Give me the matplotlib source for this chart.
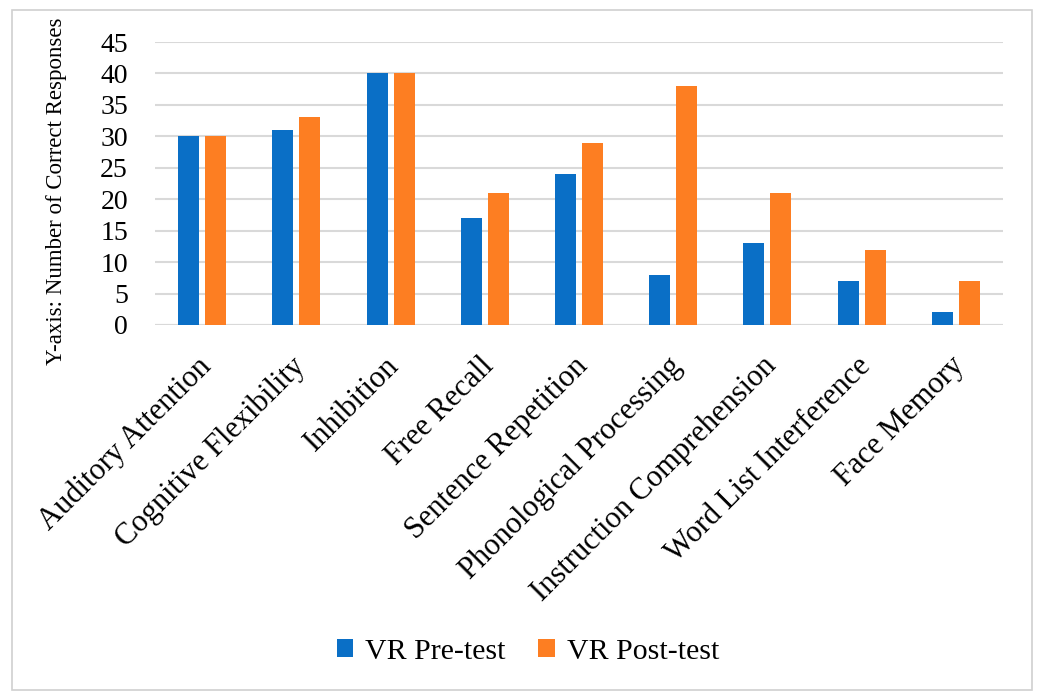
import matplotlib
matplotlib.use('Agg')
import matplotlib.pyplot as plt
import numpy as np
from matplotlib.patches import Rectangle
from matplotlib.transforms import ScaledTranslation

categories = ['Auditory Attention', 'Cognitive Flexibility', 'Inhibition', 'Free Recall',
              'Sentence Repetition', 'Phonological Processing', 'Instruction Comprehension',
              'Word List Interference', 'Face Memory']
pre_test = [30, 31, 40, 17, 24, 8, 13, 7, 2]
post_test = [30, 33, 40, 21, 29, 38, 21, 12, 7]

blue = '#0A6FC6'
orange = '#FD7E22'
grid_gray = '#D9D9D9'

plt.rcParams['font.family'] = ['Liberation Serif', 'DejaVu Serif']

fig = plt.figure(figsize=(10.38, 6.91), dpi=100)
ax = fig.add_axes([155 / 1038, 1 - 325 / 691, 848 / 1038, 283 / 691])

x = np.arange(len(categories))
width = 0.223
gap = 0.064
ax.bar(x - (width + gap) / 2, pre_test, width, color=blue, label='VR Pre-test', zorder=3)
ax.bar(x + (width + gap) / 2, post_test, width, color=orange, label='VR Post-test', zorder=3)

ax.set_xlim(-0.5, len(categories) - 0.5)
ax.set_ylim(0, 45)
ax.set_yticks(range(0, 46, 5))
ax.yaxis.grid(True, color=grid_gray, linewidth=1.5, zorder=0)
for s in ax.spines.values():
    s.set_visible(False)
ax.axhline(0, color=grid_gray, linewidth=1.5, zorder=2)

ax.tick_params(axis='y', length=0, labelsize=20, pad=19.5)
ax.set_xticks(x)
ax.set_xticklabels(categories, rotation=45, ha='right', rotation_mode='anchor')
ax.tick_params(axis='x', length=0, labelsize=22, pad=19)
# nudge the slanted labels a little to the left
shift = ScaledTranslation(-6 / 100, 0, fig.dpi_scale_trans)
for lbl in ax.get_xticklabels():
    lbl.set_transform(lbl.get_transform() + shift)

fig.text(57 / 1038, 1 - 191 / 691, 'Y-axis: Number of Correct Responses',
         rotation=90, ha='center', va='center', fontsize=16.5)

fig.legend(loc='center', bbox_to_anchor=(528 / 1038, 1 - 652 / 691), ncol=2,
           frameon=False, fontsize=21.5, handlelength=0.55, handleheight=0.55,
           handletextpad=0.4, columnspacing=1.1)

fig.patches.append(Rectangle((12 / 1038, 0.002), 1020 / 1038, 1 - 10 / 691 - 0.002,
                             transform=fig.transFigure, fill=False,
                             edgecolor='#D0D0D0', linewidth=1.2))

fig.savefig('out.png', dpi=100, facecolor='white')
